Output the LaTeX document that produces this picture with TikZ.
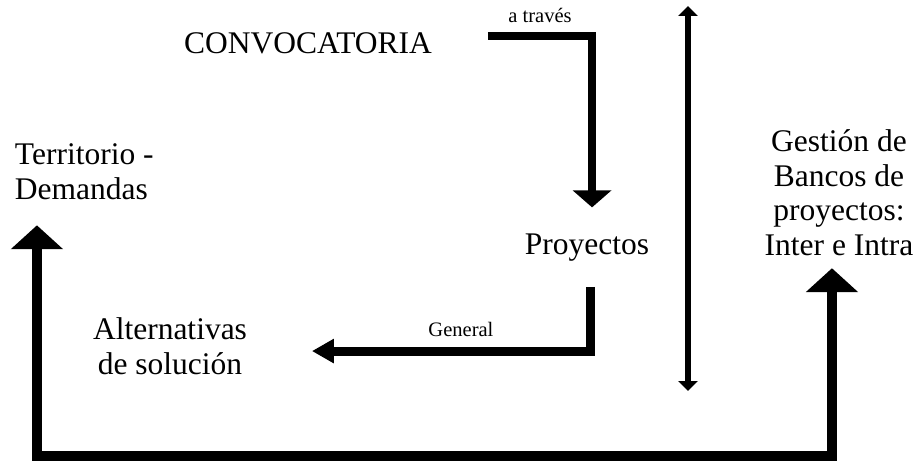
\documentclass[tikz,border=0pt]{standalone}
\usepackage{fontspec}
\setmainfont{Liberation Serif}
\usepackage{tikz}
\usetikzlibrary{arrows.meta}

\begin{document}
\begin{tikzpicture}[
    x=0.025cm, y=-0.025cm,
    txt/.style={inner sep=0pt, outer sep=0pt, align=center,
                font=\fontsize{22.4}{24.5}\selectfont},
    lbl/.style={inner sep=0pt, font=\fontsize{14.6}{16}\selectfont},
    arr/.style={line width=5.7pt, -{Triangle[length=12.1pt, width=27pt]}},
    arrb/.style={line width=6.4pt, -{Triangle[length=15.6pt, width=16.4pt]}},
    arrv/.style={line width=4.3pt,
                 {Triangle[length=7.1pt, width=13.5pt]}-{Triangle[length=7.1pt, width=13.5pt]}},
    arrl/.style={line width=7.1pt,
                 {Triangle[length=17pt, width=36.3pt]}-{Triangle[length=17pt, width=36.3pt]}}
]
\fill[white] (0,0) rectangle (917,461);
\useasboundingbox (0,0) rectangle (917,461);

\node[txt, anchor=base] (conv) at (308,53) {CONVOCATORIA};
\node[txt, anchor=base] (proy) at (587,254) {Proyectos};
\node[txt, anchor=base west, align=left] (terr) at (15,199) {Territorio -\\Demandas};
\node[txt, anchor=base] (alt) at (170,374) {Alternativas\\de solución};
\node[txt, anchor=base] (gest) at (839,255) {Gestión de\\Bancos de\\proyectos:\\Inter e Intra};

\coordinate (vtop) at (688,6);
\coordinate (vbot) at (688,391);

\draw[arr] ([xshift=39.8pt, yshift=5pt]conv.east) -|
    node[lbl, pos=0.25, above=6.8pt] {a través} ([xshift=3.6pt, yshift=18.5pt]proy.north);
\draw[arrb] ([xshift=2.8pt, yshift=-18.5pt]proy.south) |-
    node[lbl, pos=0.733, above=7.1pt] {General} ([xshift=46.2pt, yshift=-3.6pt]alt.east);
\draw[arrv] (vtop) -- (vbot);
\draw[arrl] ([xshift=15.6pt, yshift=-18.5pt]terr.south west) -- ++(0,231)
    -| ([xshift=-5pt, yshift=-9.2pt]gest.south);
\end{tikzpicture}
\end{document}
